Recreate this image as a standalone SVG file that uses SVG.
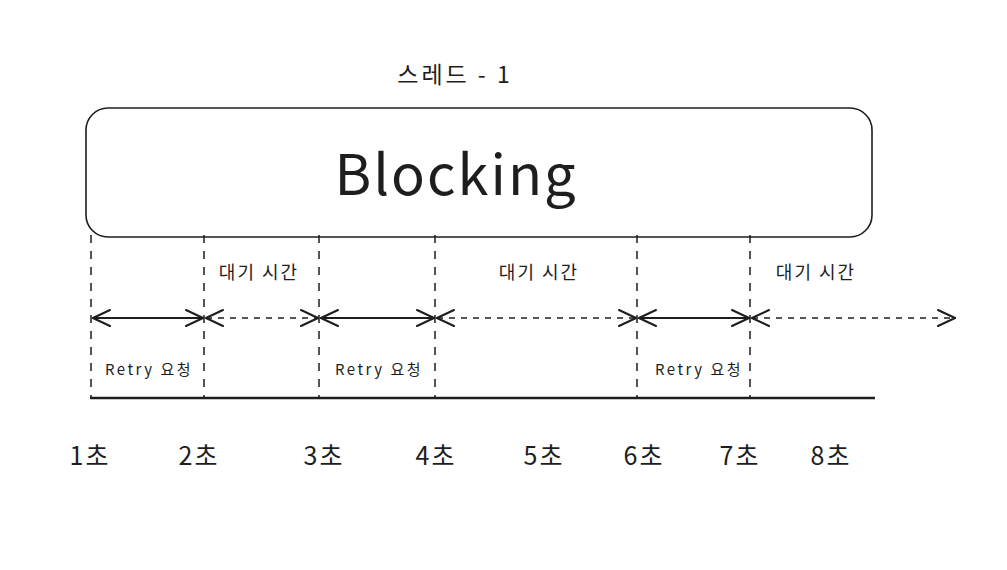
<svg xmlns="http://www.w3.org/2000/svg" width="1007" height="570" viewBox="0 0 1007 570">
<defs>
<marker id="ah" viewBox="0 0 20 20" refX="19" refY="10" markerWidth="20" markerHeight="20" markerUnits="userSpaceOnUse" orient="auto-start-reverse">
<path d="M2,2 L19,10 L2,18" fill="none" stroke="#1e1e1e" stroke-width="2" stroke-linecap="round"/>
</marker>
<style>
.t{font-family:"Noto Sans CJK KR","Noto Sans",sans-serif;fill:#1e1e1e}
.dv{stroke:#1e1e1e;stroke-width:1.5;stroke-dasharray:8 8;fill:none}
.sol{stroke:#1e1e1e;stroke-width:2.2;fill:none;marker-start:url(#ah);marker-end:url(#ah)}
.dash{stroke:#1e1e1e;stroke-width:1.5;stroke-dasharray:6 6;fill:none;marker-start:url(#ah);marker-end:url(#ah)}
</style>
</defs>
<rect width="1007" height="570" fill="#ffffff"/>
<g id="title"><text class="t" x="455" y="83" font-size="23" letter-spacing="3" text-anchor="middle">스레드 - 1</text></g>
<g id="blocking">
<rect x="86" y="108" width="786" height="129" rx="22" fill="#ffffff" stroke="#1e1e1e" stroke-width="1.6"/>
<text class="t" x="456" y="195" font-size="56" letter-spacing="2" text-anchor="middle">Blocking</text>
</g>
<g id="connectors">
<line class="dv" x1="91" y1="235" x2="91" y2="398"/>
<line class="dv" x1="204" y1="235" x2="204" y2="398"/>
<line class="dv" x1="319" y1="235" x2="319" y2="398"/>
<line class="dv" x1="435" y1="235" x2="435" y2="398"/>
<line class="dv" x1="637" y1="235" x2="637" y2="398"/>
<line class="dv" x1="750" y1="235" x2="750" y2="398"/>
<line class="sol" x1="93" y1="318" x2="203" y2="318"/>
<line class="dash" x1="206" y1="318" x2="318" y2="318"/>
<line class="sol" x1="321" y1="318" x2="434" y2="318"/>
<line class="dash" x1="437" y1="318" x2="636" y2="318"/>
<line class="sol" x1="639" y1="318" x2="749" y2="318"/>
<line class="dash" x1="752" y1="318" x2="955" y2="318"/>
<line x1="90" y1="398" x2="875" y2="398" stroke="#1e1e1e" stroke-width="2.5"/>
</g>
<g id="labels">
<text class="t" x="259" y="279" font-size="18" letter-spacing="2" text-anchor="middle">대기 시간</text>
<text class="t" x="539" y="279" font-size="18" letter-spacing="2" text-anchor="middle">대기 시간</text>
<text class="t" x="816" y="279" font-size="18" letter-spacing="2" text-anchor="middle">대기 시간</text>
<text class="t" x="149" y="375" font-size="15" letter-spacing="2.5" text-anchor="middle">Retry 요청</text>
<text class="t" x="379" y="375" font-size="15" letter-spacing="2.5" text-anchor="middle">Retry 요청</text>
<text class="t" x="699" y="375" font-size="15" letter-spacing="2.5" text-anchor="middle">Retry 요청</text>
</g>
<g id="times">
<text class="t" x="90" y="465" font-size="25" letter-spacing="2" text-anchor="middle">1초</text>
<text class="t" x="199" y="465" font-size="25" letter-spacing="2" text-anchor="middle">2초</text>
<text class="t" x="324" y="465" font-size="25" letter-spacing="2" text-anchor="middle">3초</text>
<text class="t" x="436" y="465" font-size="25" letter-spacing="2" text-anchor="middle">4초</text>
<text class="t" x="544" y="465" font-size="25" letter-spacing="2" text-anchor="middle">5초</text>
<text class="t" x="644" y="465" font-size="25" letter-spacing="2" text-anchor="middle">6초</text>
<text class="t" x="740" y="465" font-size="25" letter-spacing="2" text-anchor="middle">7초</text>
<text class="t" x="831" y="465" font-size="25" letter-spacing="2" text-anchor="middle">8초</text>
</g>
</svg>
